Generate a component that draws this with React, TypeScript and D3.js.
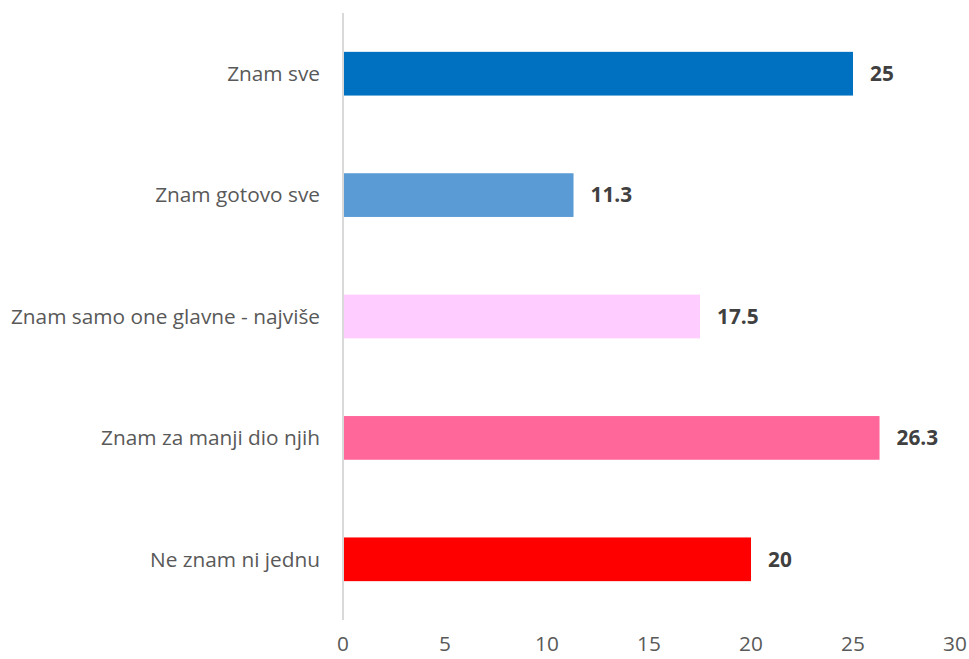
import React from 'react';
import * as d3 from 'd3';

const categories = [
  'Znam sve',
  'Znam gotovo sve',
  'Znam samo one glavne - najviše',
  'Znam za manji dio njih',
  'Ne znam ni jednu',
];
const values = [25, 11.3, 17.5, 26.3, 20];
const colors = ['#0070C0', '#5B9BD5', '#FFCCFF', '#FF6699', '#FF0000'];
const xTicks = [0, 5, 10, 15, 20, 25, 30];

const width = 969;
const height = 659;
const margin = { top: 13, right: 14, bottom: 39, left: 343 };

const App: React.FC = () => {
  const x = d3.scaleLinear()
    .domain([0, 30])
    .range([margin.left, width - margin.right]);

  const y = d3.scaleBand<string>()
    .domain(categories)
    .range([margin.top, height - margin.bottom])
    .paddingInner(0.64)
    .paddingOuter(0.32);

  const font = '"Open Sans", sans-serif';
  const fs = 20.8;

  return (
    <svg width={width} height={height} style={{ position: 'absolute', left: 0, top: 0 }}>
      {/* Bars */}
      {categories.map((c, i) => (
        <rect
          key={`bar-${i}`}
          x={x(0)}
          y={y(c)}
          width={x(values[i]) - x(0)}
          height={y.bandwidth()}
          fill={colors[i]}
        />
      ))}

      {/* Vertical axis line */}
      <line
        x1={x(0)}
        x2={x(0)}
        y1={margin.top}
        y2={height - margin.bottom}
        stroke="#d9d9d9"
        strokeWidth={2}
      />

      {/* Category labels */}
      {categories.map((c, i) => (
        <text
          key={`cat-${i}`}
          x={x(0) - 23}
          y={(y(c) ?? 0) + y.bandwidth() / 2}
          dy="0.35em"
          textAnchor="end"
          fill="#595959"
          fontFamily={font}
          fontSize={fs}
        >
          {c}
        </text>
      ))}

      {/* Value labels */}
      {categories.map((c, i) => (
        <text
          key={`val-${i}`}
          x={x(values[i]) + 17}
          y={(y(c) ?? 0) + y.bandwidth() / 2}
          dy="0.35em"
          fill="#404040"
          fontFamily={font}
          fontWeight="bold"
          fontSize={fs}
        >
          {values[i]}
        </text>
      ))}

      {/* X tick labels */}
      {xTicks.map(t => (
        <text
          key={`tick-${t}`}
          x={x(t)}
          y={644}
          dy="0.35em"
          textAnchor="middle"
          fill="#595959"
          fontFamily={font}
          fontSize={fs}
        >
          {t}
        </text>
      ))}
    </svg>
  );
};

export default App;
